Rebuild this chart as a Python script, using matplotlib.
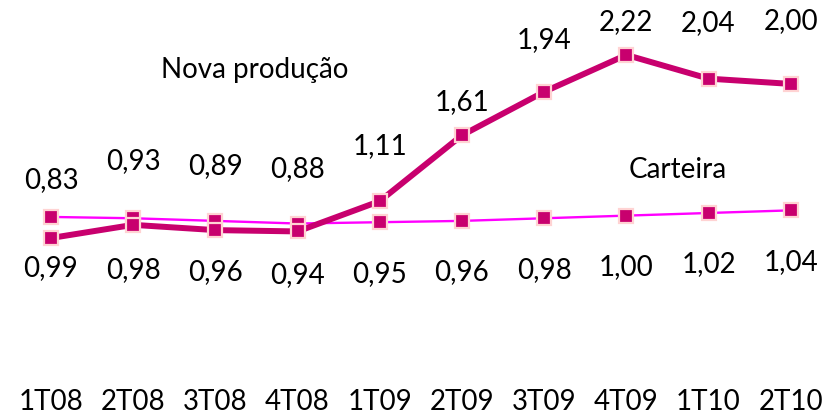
import matplotlib
matplotlib.use("Agg")
import matplotlib.pyplot as plt
import matplotlib.transforms as mtransforms

plt.rcParams['font.family'] = ['Lato', 'DejaVu Sans']

quarters = ["1T08", "2T08", "3T08", "4T08", "1T09", "2T09", "3T09", "4T09", "1T10", "2T10"]
nova = [0.83, 0.93, 0.89, 0.88, 1.11, 1.61, 1.94, 2.22, 2.04, 2.00]
carteira = [0.99, 0.98, 0.96, 0.94, 0.95, 0.96, 0.98, 1.00, 1.02, 1.04]

# label offsets above the points (points)
nova_off = [42, 46, 46, 45, 40, 24, 37, 24, 40, 45]

dark = "#C8006E"
pink = "#FF00FF"
edge = "#FFD3D3"
fs = 20

fig = plt.figure(figsize=(8.31, 4.19), dpi=100)
ax = fig.add_axes([0, 0, 1, 1])
x = list(range(len(quarters)))

ax.plot(x, carteira, color=pink, lw=1.7, marker="s", ms=10, mfc=dark, mec=edge, mew=1.6, zorder=2)
ax.plot(x, nova, color=dark, lw=4.3, marker="s", ms=10, mfc=dark, mec=edge, mew=1.6, zorder=3)

for i in x:
    ax.annotate(f"{nova[i]:.2f}".replace(".", ","), (i, nova[i]), xytext=(0, nova_off[i]),
                textcoords="offset points", ha="center", va="center", fontsize=fs)
    ax.annotate(f"{carteira[i]:.2f}".replace(".", ","), (i, carteira[i]), xytext=(0, -37),
                textcoords="offset points", ha="center", va="center", fontsize=fs)

trans = mtransforms.blended_transform_factory(ax.transData, ax.transAxes)
for i, q in enumerate(quarters):
    ax.text(i, 0.04, q, transform=trans, ha="center", va="center", fontsize=fs)

ax.text(2.48, 2.106, "Nova produção", ha="center", va="center", fontsize=fs)
ax.text(7.63, 1.346, "Carteira", ha="center", va="center", fontsize=fs)

ax.set_xlim(-0.62, 9.49)
ax.set_ylim(-0.544, 2.637)
ax.axis("off")

fig.savefig("out.png", dpi=100)
